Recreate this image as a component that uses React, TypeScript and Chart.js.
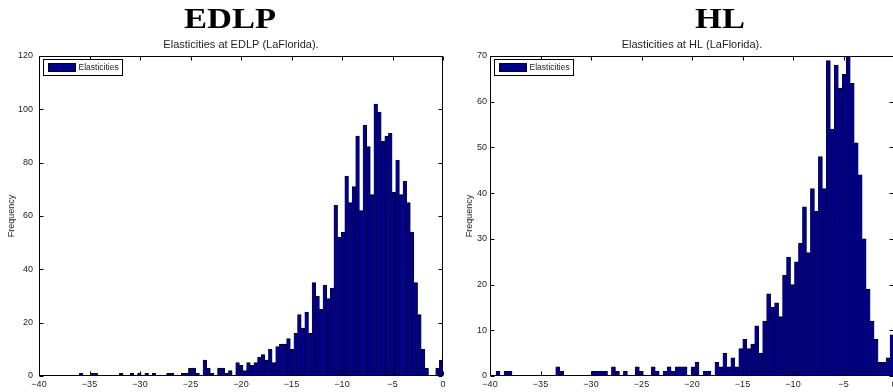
import React, { useEffect, useRef } from 'react';
import { Chart, registerables } from 'chart.js';

Chart.register(...registerables);

// ---------- data ----------
const leftTitle = 'EDLP';
const leftSubtitle = 'Elasticities at EDLP (LaFlorida).';
const rightTitle = 'HL';
const rightSubtitle = 'Elasticities at HL (LaFlorida).';
const seriesLabel = 'Elasticities';
const yAxisLabel = 'Frequency';

const xTickValues = [-40, -35, -30, -25, -20, -15, -10, -5, 0];
const leftYTickValues = [0, 20, 40, 60, 80, 100, 120];
const rightYTickValues = [0, 10, 20, 30, 40, 50, 60, 70];

// histogram bins (start of first bin, bin width) and counts per bin
const leftBinStart = -36.0;
const leftBinWidth = 0.36;
const leftCounts = [
  1, 0, 0, 1, 1, 0, 0, 0, 0, 0,
  0, 1, 0, 0, 1, 0, 1, 0, 1, 0,
  1, 0, 0, 0, 1, 1, 0, 0, 1, 1,
  3, 3, 1, 0, 6, 3, 1, 0, 3, 3,
  1, 2, 0, 5, 4, 2, 5, 4, 5, 7,
  8, 6, 10, 5, 11, 12, 12, 14, 10, 16,
  23, 18, 24, 16, 35, 30, 25, 34, 29, 33,
  64, 52, 54, 75, 65, 71, 90, 62, 94, 86,
  68, 102, 99, 88, 90, 91, 69, 81, 68, 73,
  65, 54, 35, 23, 10, 3, 0, 0, 3, 6,
];

const rightBinStart = -39.4;
const rightBinWidth = 0.394;
const rightCounts = [
  1, 0, 1, 1, 0, 0, 0, 0, 0, 0,
  0, 0, 0, 0, 0, 2, 1, 0, 0, 0,
  0, 0, 0, 0, 1, 1, 1, 1, 0, 2,
  1, 0, 1, 0, 0, 2, 1, 0, 0, 2,
  1, 0, 1, 2, 1, 2, 2, 2, 0, 2,
  3, 0, 1, 1, 0, 3, 2, 5, 2, 4,
  2, 6, 8, 6, 7, 11, 5, 12, 18, 15,
  16, 13, 22, 26, 20, 25, 29, 37, 27, 41,
  36, 48, 41, 69, 54, 68, 63, 66, 70, 64,
  51, 44, 30, 19, 12, 8, 3, 3, 4, 9,
];

// ---------- styling ----------
const BAR_FILL = 'rgb(0,0,140)';
const BAR_EDGE = '#000000';
const SANS = '"Liberation Sans", Arial, Helvetica, sans-serif';
const TEXT = '#1e1e1e';

const fmt = (v: number) => (v < 0 ? '\u2212' + Math.abs(v) : String(v));

const matlabPlugin = {
  id: 'matlabBox',
  afterDraw(chart: any, _args: any, opts: any) {
    const { ctx, chartArea: a, scales } = chart;
    const xs = scales.x;
    const ys = scales.y;
    ctx.save();
    const L = Math.round(a.left) + 0.5;
    const R = Math.round(a.right) - 0.5;
    const T = Math.round(a.top) + 0.5;
    const B = Math.round(a.bottom) - 0.5;
    ctx.strokeStyle = '#000';
    ctx.lineWidth = 1;
    ctx.strokeRect(L, T, R - L, B - T);
    ctx.beginPath();
    const tl = 4;
    xs.ticks.forEach((t: any) => {
      const px = Math.round(xs.getPixelForValue(t.value)) + 0.5;
      ctx.moveTo(px, B);
      ctx.lineTo(px, B - tl);
      ctx.moveTo(px, T);
      ctx.lineTo(px, T + tl);
    });
    ys.ticks.forEach((t: any) => {
      const py = Math.round(ys.getPixelForValue(t.value)) + 0.5;
      ctx.moveTo(L, py);
      ctx.lineTo(L + tl, py);
      ctx.moveTo(R, py);
      ctx.lineTo(R - tl, py);
    });
    ctx.stroke();

    // subtitle
    ctx.fillStyle = TEXT;
    ctx.font = '11px ' + SANS;
    ctx.textAlign = 'center';
    ctx.textBaseline = 'alphabetic';
    ctx.fillText(opts.subtitle, (a.left + a.right) / 2, a.top - 8);

    // legend inside top-left
    const ds = chart.data.datasets[0];
    ctx.font = '8.5px ' + SANS;
    const tw = ctx.measureText(ds.label).width;
    const bx = Math.round(a.left) + 4.5;
    const by = Math.round(a.top) + 3.5;
    const bw = Math.round(35 + tw + 4);
    const bh = 16;
    ctx.fillStyle = '#fff';
    ctx.fillRect(bx, by, bw, bh);
    ctx.strokeStyle = '#000';
    ctx.strokeRect(bx, by, bw, bh);
    ctx.fillStyle = ds.backgroundColor;
    ctx.fillRect(bx + 5, by + 4, 27, 8);
    ctx.strokeRect(bx + 5, by + 4, 27, 8);
    ctx.fillStyle = TEXT;
    ctx.textAlign = 'left';
    ctx.textBaseline = 'middle';
    ctx.fillText(ds.label, bx + 35, by + bh / 2 + 0.5);
    ctx.restore();
  },
};

function makeConfig(
  binStart: number,
  binWidth: number,
  counts: number[],
  yTicks: number[],
  subtitle: string,
  yAxisWidth: number,
  padRight: number,
  yTickPad: number,
  yTitlePad: number
): any {
  const points = counts.map((c, i) => ({ x: binStart + (i + 0.5) * binWidth, y: c }));
  return {
    type: 'bar',
    data: {
      datasets: [
        {
          label: seriesLabel,
          data: points,
          backgroundColor: BAR_FILL,
          borderColor: BAR_EDGE,
          borderWidth: { top: 1, left: 0.5, right: 0.5, bottom: 0 },
          borderSkipped: 'start',
          barPercentage: 1,
          categoryPercentage: 1,
        },
      ],
    },
    options: {
      responsive: false,
      maintainAspectRatio: false,
      animation: false,
      events: [],
      layout: { padding: { top: 56, left: 0, right: padRight, bottom: 0 } },
      plugins: {
        legend: { display: false },
        title: { display: false },
        tooltip: { enabled: false },
        matlabBox: { subtitle },
      },
      scales: {
        x: {
          type: 'linear',
          offset: false,
          min: xTickValues[0],
          max: xTickValues[xTickValues.length - 1],
          grid: { display: false, drawTicks: false, tickLength: 0, offset: false },
          border: { display: false },
          afterBuildTicks: (s: any) => {
            s.ticks = xTickValues.map((v) => ({ value: v }));
          },
          afterFit: (s: any) => {
            s.height = 16;
          },
          ticks: {
            autoSkip: false,
            maxRotation: 0,
            padding: 3,
            color: TEXT,
            font: { family: SANS, size: 9 },
            callback: (v: any) => fmt(Number(v)),
          },
        },
        y: {
          type: 'linear',
          min: yTicks[0],
          max: yTicks[yTicks.length - 1],
          grid: { display: false, drawTicks: false, tickLength: 0 },
          border: { display: false },
          afterBuildTicks: (s: any) => {
            s.ticks = yTicks.map((v) => ({ value: v }));
          },
          afterFit: (s: any) => {
            s.width = yAxisWidth;
          },
          ticks: {
            autoSkip: false,
            padding: yTickPad,
            color: TEXT,
            font: { family: SANS, size: 9 },
            callback: (v: any) => fmt(Number(v)),
          },
          title: {
            display: true,
            text: yAxisLabel,
            color: TEXT,
            font: { family: SANS, size: 9 },
            padding: { top: yTitlePad, bottom: 0 },
          },
        },
      },
    },
    plugins: [matlabPlugin],
  };
}

function HistCanvas(props: { config: any; left: number; width: number }) {
  const ref = useRef<HTMLCanvasElement | null>(null);
  useEffect(() => {
    if (!ref.current) return;
    const chart = new Chart(ref.current, props.config);
    return () => chart.destroy();
  }, []);
  return (
    <canvas
      ref={ref}
      width={props.width}
      height={392}
      style={{ position: 'absolute', left: props.left, top: 0, width: props.width, height: 392, display: 'block' }}
    />
  );
}

function BigTitle(props: { text: string; cx: number }) {
  return (
    <div
      style={{
        position: 'absolute',
        left: props.cx - 150,
        top: 3,
        width: 300,
        textAlign: 'center',
        fontFamily: '"Liberation Serif", "Times New Roman", serif',
        fontWeight: 'bold',
        fontSize: 30,
        lineHeight: '30px',
        color: '#000',
        transform: 'scaleX(1.15)',
        whiteSpace: 'nowrap',
      }}
    >
      {props.text}
    </div>
  );
}

export default function App() {
  const leftCfg = makeConfig(leftBinStart, leftBinWidth, leftCounts, leftYTickValues, leftSubtitle, 39, 19, 6, 6.5);
  const rightCfg = makeConfig(rightBinStart, rightBinWidth, rightCounts, rightYTickValues, rightSubtitle, 28, 38, 3, 2.6);
  return (
    <div
      style={{
        position: 'absolute',
        left: 0,
        top: 0,
        width: 893,
        height: 392,
        overflow: 'hidden',
        background: '#fff',
      }}
    >
      <HistCanvas config={leftCfg} left={0} width={462} />
      <HistCanvas config={rightCfg} left={462} width={470} />
      <BigTitle text={leftTitle} cx={230} />
      <BigTitle text={rightTitle} cx={720} />
    </div>
  );
}
